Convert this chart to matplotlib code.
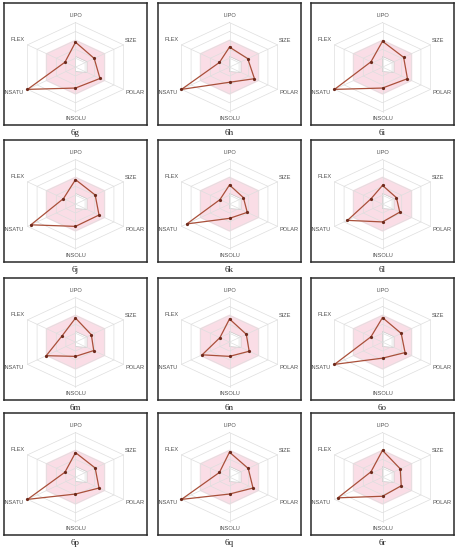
import matplotlib
matplotlib.use('Agg')
import matplotlib.pyplot as plt
import numpy as np

# ============================================================================
# BIOAVAILABILITY RADAR DATA (outer ring = 1.0)
# ============================================================================

axis_labels = ['LIPO', 'SIZE', 'POLAR', 'INSOLU', 'INSATU', 'FLEX']
compounds = ['6g', '6h', '6i', '6j', '6k', '6l',
             '6m', '6n', '6o', '6p', '6q', '6r']

lipo = [0.56, 0.45, 0.58, 0.55, 0.43, 0.42, 0.54, 0.52, 0.55, 0.55, 0.56, 0.60]
size = [0.39, 0.38, 0.44, 0.41, 0.29, 0.29, 0.33, 0.35, 0.39, 0.41, 0.39, 0.37]
polar = [0.51, 0.52, 0.52, 0.49, 0.37, 0.36, 0.38, 0.41, 0.47, 0.49, 0.49, 0.39]
insolu = [0.47, 0.34, 0.47, 0.50, 0.32, 0.40, 0.32, 0.32, 0.36, 0.38, 0.38, 0.43]
insatu = [1.00, 1.00, 1.00, 0.93, 0.89, 0.73, 0.61, 0.57, 1.00, 1.00, 1.00, 0.93]
flex = [0.22, 0.21, 0.24, 0.25, 0.20, 0.24, 0.28, 0.20, 0.24, 0.22, 0.21, 0.24]

# optimal zone (pink) and the white area below the lower limits
optimal_upper = [0.62, 0.62, 0.62, 0.62, 0.62, 0.62]
optimal_lower = [0.24, 0.24, 0.24, 0.10, 0.0, 0.0]

rings = [0.2, 0.4, 0.6, 0.8, 1.0]

# ============================================================================
# LAYOUT (pixels of the 458x550 image)
# ============================================================================

W, H = 458, 550
col_x = [4, 158, 311]
row_y = [3, 140, 278, 413]
box_w, box_h = 143, 122

angles = np.deg2rad([90, 30, -30, -90, -150, 150])
label_pos = [(0, 1.16), (1.0, 0.60), (1.07, -0.58),
             (0, -1.16), (-1.12, -0.56), (-1.05, 0.61)]


def to_xy(values):
    r = np.asarray(values, dtype=float)
    x = r * np.cos(angles)
    y = r * np.sin(angles)
    return np.append(x, x[0]), np.append(y, y[0])


fig = plt.figure(figsize=(W / 100, H / 100), dpi=100)

for i, name in enumerate(compounds):
    row, col = divmod(i, 3)
    x0, y0 = col_x[col], row_y[row]
    ax = fig.add_axes([x0 / W, 1 - (y0 + box_h) / H, box_w / W, box_h / H])
    ax.set_facecolor('none')

    # pink optimal zone with white inner area
    px, py = to_xy(optimal_upper)
    ax.fill(px, py, color='#fadde6', lw=0, zorder=1)
    wx, wy = to_xy(optimal_lower)
    ax.fill(wx, wy, facecolor='white', edgecolor='#c8c8c8', lw=0.5, zorder=2)

    # hexagonal grid and spokes
    for r in rings:
        gx, gy = to_xy([r] * 6)
        ax.plot(gx, gy, color='#dedede', lw=0.5, zorder=3)
    for a in angles:
        ax.plot([0, np.cos(a)], [0, np.sin(a)], color='#dedede', lw=0.5, zorder=3)

    # compound profile
    vals = [lipo[i], size[i], polar[i], insolu[i], insatu[i], flex[i]]
    cx, cy = to_xy(vals)
    ax.plot(cx, cy, color='#a9503a', lw=0.9, zorder=4)
    ax.plot(cx[:-1], cy[:-1], 'o', color='#6e2a1c', markersize=1.3, zorder=5)

    for lab, (lx, ly) in zip(axis_labels, label_pos):
        ax.text(lx, ly, lab, ha='center', va='center', fontsize=4.1,
                color='#505050', family='Liberation Sans')

    ax.set_xlim(-1.29, 1.29)
    ax.set_ylim(-1.30, 1.44)
    ax.set_xticks([])
    ax.set_yticks([])
    for s in ax.spines.values():
        s.set_color('#2a2a2a')
        s.set_linewidth(1.1)

    fig.text((x0 + box_w / 2) / W, 1 - (y0 + box_h + 8) / H, name,
             ha='center', va='center', fontsize=6.5, family='Liberation Serif',
             color='#222222', zorder=10)

plt.savefig('out.png', dpi=100)
